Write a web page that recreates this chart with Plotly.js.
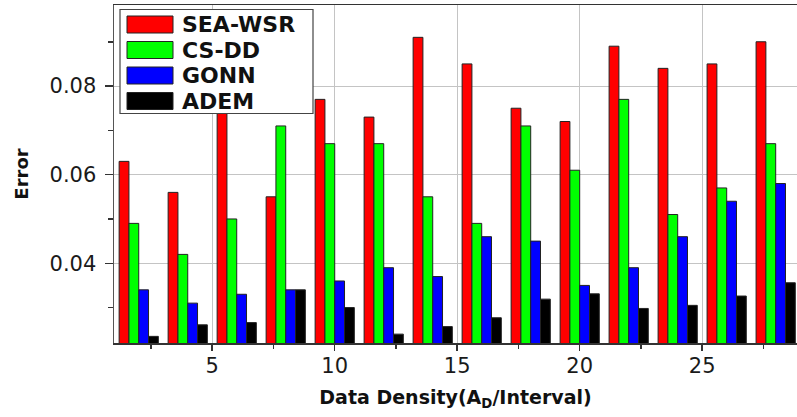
<!DOCTYPE html>
<html>
<head>
<meta charset="utf-8">
<script src="https://cdn.plot.ly/plotly-3.0.1.min.js"></script>
<style>html,body{margin:0;padding:0;background:#fff;}#chart{width:797px;height:417px;}</style>
</head>
<body>
<div id="chart"></div>
<script>
// Data density positions (group centres)
const densities = [2, 4, 6, 8, 10, 12, 14, 16, 18, 20, 22, 24, 26, 28];
const seriesNames = ['SEA-WSR', 'CS-DD', 'GONN', 'ADEM'];
const seriesColors = ['#ff0000', '#00ff00', '#0000ff', '#000000'];
const seaWsr = [0.063, 0.056, 0.080, 0.055, 0.077, 0.073, 0.091, 0.085, 0.075, 0.072, 0.089, 0.084, 0.085, 0.090];
const csDd   = [0.049, 0.042, 0.050, 0.071, 0.067, 0.067, 0.055, 0.049, 0.071, 0.061, 0.077, 0.051, 0.057, 0.067];
const gonn   = [0.034, 0.031, 0.033, 0.034, 0.036, 0.039, 0.037, 0.046, 0.045, 0.035, 0.039, 0.046, 0.054, 0.058];
const adem   = [0.0235, 0.0261, 0.0266, 0.034, 0.030, 0.024, 0.0257, 0.0277, 0.0319, 0.0331, 0.0298, 0.0305, 0.0326, 0.0356];
const xTickVals = [5, 10, 15, 20, 25];
const yTickVals = [0.04, 0.06, 0.08];

const seriesValues = [seaWsr, csDd, gonn, adem];
const traces = seriesNames.map((name, i) => ({
  type: 'bar',
  name: name,
  x: densities,
  y: seriesValues[i],
  marker: {color: seriesColors[i], line: {color: '#222', width: 1}},
  showlegend: false,
  hoverinfo: 'x+y+name'
}));

const tickFont = {family: 'DejaVu Sans', size: 21, color: '#1a1a1a'};

// Custom legend (wide swatches like the original)
const shapes = [];
const annotations = [];
const plotW = 797 - 114, plotH = 343 - 5;
const px = x => (x - 114) / plotW;
const py = y => (343 - y) / plotH;
shapes.push({type: 'rect', xref: 'paper', yref: 'paper', x0: px(120), x1: px(313), y0: py(113.5), y1: py(9.5),
  fillcolor: '#ffffff', line: {color: '#444', width: 1.2}, layer: 'above'});
seriesNames.forEach((name, i) => {
  const top = 16 + i * 25.5;
  shapes.push({type: 'rect', xref: 'paper', yref: 'paper', x0: px(127), x1: px(173), y0: py(top + 17), y1: py(top),
    fillcolor: seriesColors[i], line: {color: '#222', width: 1}, layer: 'above'});
  annotations.push({xref: 'paper', yref: 'paper', x: px(180), y: py(top + 8.5), xanchor: 'left', yanchor: 'middle',
    text: name, showarrow: false, font: {family: 'DejaVu Sans', size: 22, weight: 'bold', color: '#111'}});
});

const layout = {
  width: 797, height: 417,
  margin: {l: 114, r: 0, t: 5, b: 74, pad: 0},
  paper_bgcolor: '#ffffff', plot_bgcolor: '#ffffff',
  barmode: 'group', bargap: 0.2, bargroupgap: 0,
  xaxis: {
    range: [0.99, 28.87], tickvals: xTickVals, ticktext: xTickVals.map(String),
    ticks: 'outside', ticklen: 6, tickwidth: 1.5, tickcolor: '#333', ticklabelstandoff: -3,
    minor: {dtick: 2.5, tick0: 0, ticks: 'outside', ticklen: 4, tickwidth: 1.5, tickcolor: '#333', showgrid: false},
    showgrid: true, gridcolor: '#c4c4c4', gridwidth: 1,
    showline: true, linecolor: '#333', linewidth: 1.5, mirror: true, zeroline: false,
    tickfont: tickFont, automargin: false,
    title: {text: 'Data Density(A<sub>D</sub>/Interval)', standoff: 14,
      font: {family: 'DejaVu Sans', size: 19, weight: 'bold', color: '#111'}}
  },
  yaxis: {
    range: [0.022, 0.0983], tickvals: yTickVals, ticktext: yTickVals.map(v => v.toFixed(2)),
    ticks: 'outside', ticklen: 8, tickwidth: 1.5, tickcolor: '#333', ticklabelstandoff: 4,
    minor: {dtick: 0.01, tick0: 0, ticks: 'outside', ticklen: 5, tickwidth: 1.5, tickcolor: '#333', showgrid: false},
    showgrid: true, gridcolor: '#c4c4c4', gridwidth: 1,
    showline: true, linecolor: '#555', linewidth: 1.5, mirror: false, zeroline: false,
    tickfont: tickFont, automargin: false,
    title: {text: 'Error', standoff: 16,
      font: {family: 'DejaVu Sans', size: 18, weight: 'bold', color: '#111'}}
  },
  shapes: shapes,
  annotations: annotations
};

Plotly.newPlot('chart', traces, layout, {displayModeBar: false, staticPlot: true});
</script>
</body>
</html>
